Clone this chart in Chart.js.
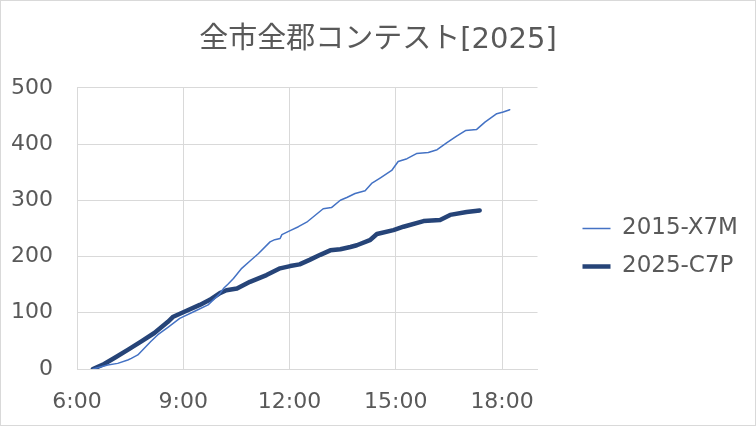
<!DOCTYPE html>
<html>
<head>
<meta charset="utf-8">
<script src="https://cdn.jsdelivr.net/npm/chart.js@4.4.1/dist/chart.umd.min.js"></script>
<style>
  html, body { margin: 0; padding: 0; background: #fff; }
  #wrap { width: 756px; height: 426px; box-sizing: border-box; border: 1px solid #d9d9d9; position: relative; }
  #wrap canvas { display: block; }
</style>
</head>
<body>
<div id="wrap"><canvas id="c"></canvas></div>
<script>
const chartTitle = '全市全郡コンテスト[2025]';
const seriesNames = ['2015-X7M', '2025-C7P'];

// 2015-X7M : time of day / cumulative count
const timesA = ['6:27','6:38','6:52','7:09','7:26','7:32','7:43','7:54','8:05','8:17','8:34','8:54',
  '9:22','9:42','10:02','10:08','10:16','10:25','10:39','10:53','11:07','11:27','11:35','11:44','11:47',
  '12:01','12:15','12:29','12:43','12:57','13:11','13:26','13:37','13:51','14:08','14:19','14:34','14:53',
  '15:04','15:19','15:35','15:55','16:10','16:26','16:43','16:58','17:17','17:31','17:51','18:02','18:13'];
const valuesA = [0,3,7,10,16,19,25,37,49,61,74,90,
  104,114,134,143,151,161,179,192,205,226,230,232,239,
  246,253,261,273,285,287,300,305,312,317,330,340,353,
  369,374,383,385,390,402,414,424,426,439,454,457,461];

// 2025-C7P : time of day / cumulative count
const timesB = ['6:27','6:46','7:04','7:26','7:49','8:11','8:34','8:43','9:00','9:28','9:45','10:02',
  '10:13','10:31','10:53','11:21','11:44','12:01','12:17','12:34','12:52','13:09','13:26','13:43','13:54',
  '14:16','14:28','14:56','15:13','15:47','16:15','16:32','17:00','17:22'];
const valuesB = [0,9,20,34,49,64,84,93,101,114,123,135,
  140,143,155,167,179,183,186,194,203,211,213,217,220,
  229,240,247,253,263,265,274,279,282];

const xTickHours = [6, 9, 12, 15, 18];
const xMin = 6, xMax = 19;
const yMin = 0, yMax = 500, yStep = 100;

function toHours(t) { const p = t.split(':'); return +p[0] + (+p[1]) / 60; }
function pts(times, vals) { return times.map((t, i) => ({ x: toHours(t), y: vals[i] })); }

const TEXT = '#595959';
const GRID = '#d9d9d9';
const FONT = "'DejaVu Sans', 'Noto Sans CJK JP', sans-serif";
Chart.defaults.font.family = FONT;
Chart.defaults.color = TEXT;

const layoutTweak = {
  id: 'layoutTweak',
  afterLayout(chart) {
    const lg = chart.legend;
    if (lg) { lg.left += 30; lg.right += 30; lg.top += 19; lg.bottom += 19; }
    const tb = chart.titleBlock;
    if (tb) { tb.left = 0; tb.right = chart.width; }
  }
};

new Chart(document.getElementById('c'), {
  type: 'line',
  data: {
    datasets: [
      { label: seriesNames[0], data: pts(timesA, valuesA), borderColor: '#4472c4', backgroundColor: '#4472c4',
        borderWidth: 1.5, pointRadius: 0, pointStyle: 'line', tension: 0, borderJoinStyle: 'round', borderCapStyle: 'round' },
      { label: seriesNames[1], data: pts(timesB, valuesB), borderColor: '#264478', backgroundColor: '#264478',
        borderWidth: 4.5, pointRadius: 0, pointStyle: 'line', tension: 0, borderJoinStyle: 'round', borderCapStyle: 'round' }
    ]
  },
  options: {
    responsive: true,
    maintainAspectRatio: false,
    animation: false,
    layout: { padding: { left: 10, right: 42, top: 0, bottom: 10 } },
    plugins: {
      title: { display: true, text: chartTitle, color: TEXT, font: { size: 29, weight: 'normal', family: FONT },
        padding: { top: 22, bottom: 30 } },
      legend: {
        position: 'right', fullSize: false,
        labels: { usePointStyle: true, pointStyleWidth: 28, boxHeight: 20, color: TEXT, padding: 15,
          font: { size: 23 } }
      },
      tooltip: { enabled: false }
    },
    scales: {
      x: {
        type: 'linear', min: xMin, max: xMax,
        afterBuildTicks: (axis) => { axis.ticks = xTickHours.map(v => ({ value: v })); },
        afterFit: (axis) => { axis.height = 46; },
        ticks: { callback: v => v + ':00', font: { size: 22 }, color: TEXT, padding: 20, maxRotation: 0 },
        grid: { color: GRID, drawTicks: false },
        border: { color: GRID }
      },
      y: {
        min: yMin, max: yMax,
        afterFit: (axis) => { axis.width = 66; },
        ticks: { stepSize: yStep, font: { size: 22 }, color: TEXT, padding: 24 },
        grid: { color: GRID, drawTicks: false },
        border: { display: false }
      }
    }
  },
  plugins: [layoutTweak]
});
</script>
</body>
</html>
